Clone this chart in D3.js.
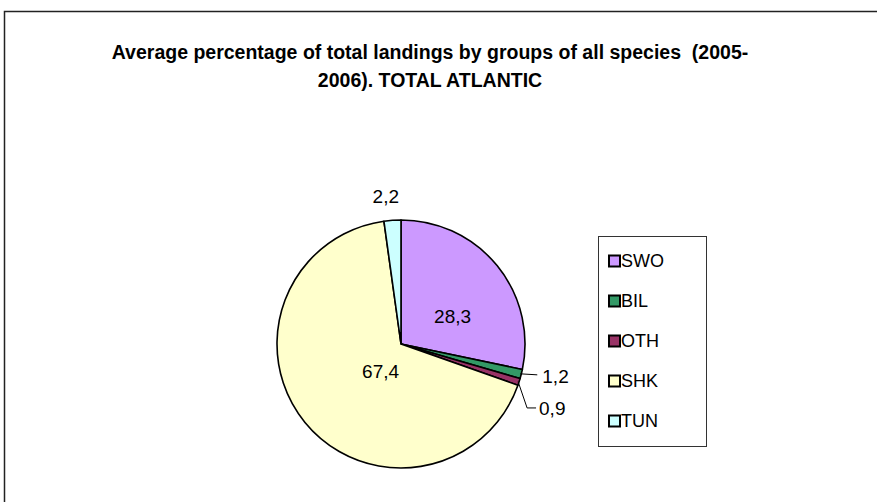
<!DOCTYPE html>
<html>
<head>
<meta charset="utf-8">
<script src="https://cdn.jsdelivr.net/npm/d3@7"></script>
<style>
  body { margin: 0; background: #fff; }
  text { font-family: Arial, "Liberation Sans", sans-serif; white-space: pre; }
</style>
</head>
<body>
<div id="chart-area"></div>
<script>
var groups = ['SWO', 'BIL', 'OTH', 'SHK', 'TUN'];
var shares = [28.3, 1.2, 0.9, 67.4, 2.2];
var colors = ['#CC99FF', '#339966', '#993366', '#FFFFCC', '#CCFFFF'];
var titleLines = ['Average percentage of total landings by groups of all species  (2005-',
                  '2006). TOTAL ATLANTIC'];

var width = 877, height = 502;
var cx = 401, cy = 344, radius = 124;

var svg = d3.select('#chart-area').append('svg')
			.attr('width', width)
			.attr('height', height);

// outer chart border (runs off right & bottom)
svg.append('rect')
	.attr('x', 4.5).attr('y', 11.5)
	.attr('width', width + 10).attr('height', height + 10)
	.attr('fill', 'none')
	.attr('stroke', '#222')
	.attr('stroke-width', 1.5);

svg.selectAll('.title').data(titleLines).enter()
	.append('text')
		.attr('class', 'title')
		.attr('x', 430)
		.attr('y', (d, i) => 59 + i * 28)
		.attr('text-anchor', 'middle')
		.attr('font-size', '19.5px')
		.attr('font-weight', 'bold')
		.text(d => d);

var data = groups.map((g, i) => ({ name: g, value: shares[i], color: colors[i] }));
var fmt = v => String(v).replace('.', ',');

var pie = d3.pie().sort(null).value(d => d.value);
var arcs = pie(data);
var arc = d3.arc().innerRadius(0).outerRadius(radius);

var g = svg.append('g').attr('transform', `translate(${cx}, ${cy})`);

g.selectAll('path').data(arcs).enter()
	.append('path')
		.attr('d', arc)
		.attr('fill', d => d.data.color)
		.attr('stroke', '#000')
		.attr('stroke-width', 1.6)
		.attr('stroke-linejoin', 'round');

// label placement: inside for big slices, outside for small ones
var polar = (a, r) => [r * Math.sin(a), -r * Math.cos(a)];
var labelSpot = {
	SWO: d => { var p = polar(d.mid, 60); return [p[0] + 5, p[1] + 10]; },
	SHK: d => { var p = polar(d.mid - 0.35, 40); return [p[0], p[1] - 7]; },
	TUN: d => { var p = polar(d.mid, radius + 24); return [p[0] - 5, p[1]]; },
	BIL: d => { var p = polar(d.mid, radius); return [p[0] + 21, p[1] + 2]; },
	OTH: d => { var p = polar(d.mid, radius); return [p[0] + 20, p[1] + 26]; }
};
arcs.forEach(d => { d.mid = (d.startAngle + d.endAngle) / 2; d.pos = labelSpot[d.data.name](d); });

// leader lines for the thin slices
var leaders = arcs.filter(d => d.data.name === 'BIL' || d.data.name === 'OTH');
g.selectAll('.leader').data(leaders).enter()
	.append('polyline')
		.attr('class', 'leader')
		.attr('fill', 'none')
		.attr('stroke', '#000')
		.attr('stroke-width', 1)
		.attr('points', d => {
			var a = polar(d.mid, radius - 1);
			if (d.data.name === 'BIL') {
				return [a, [d.pos[0] - 5, a[1] + 1]].join(' ');
			}
			return [a, [a[0] + 9, d.pos[1]], [d.pos[0] - 3, d.pos[1]]].join(' ');
		});

g.selectAll('.lbl').data(arcs).enter()
	.append('text')
		.attr('class', 'lbl')
		.attr('x', d => d.pos[0])
		.attr('y', d => d.pos[1])
		.attr('dy', '0.35em')
		.attr('text-anchor', d => (d.data.name === 'BIL' || d.data.name === 'OTH') ? 'start' : 'middle')
		.attr('font-size', '19px')
		.text(d => fmt(d.data.value));

// legend
var legend = svg.append('g').attr('transform', 'translate(598, 236)');
legend.append('rect')
	.attr('x', 0.5).attr('y', 0.5)
	.attr('width', 108).attr('height', 210)
	.attr('fill', '#fff')
	.attr('stroke', '#333')
	.attr('stroke-width', 1);

var ly = d3.scaleBand().domain(groups).range([5, 205]);
var items = legend.selectAll('.item').data(data).enter()
	.append('g')
		.attr('class', 'item')
		.attr('transform', d => `translate(0, ${ly(d.name) + ly.bandwidth() / 2})`);
items.append('rect')
	.attr('x', 11).attr('y', -5.5)
	.attr('width', 11).attr('height', 11)
	.attr('fill', d => d.color)
	.attr('stroke', '#000')
	.attr('stroke-width', 2);
items.append('text')
	.attr('x', 23)
	.attr('dy', '0.36em')
	.attr('font-size', '18px')
	.text(d => d.name);
</script>
</body>
</html>
